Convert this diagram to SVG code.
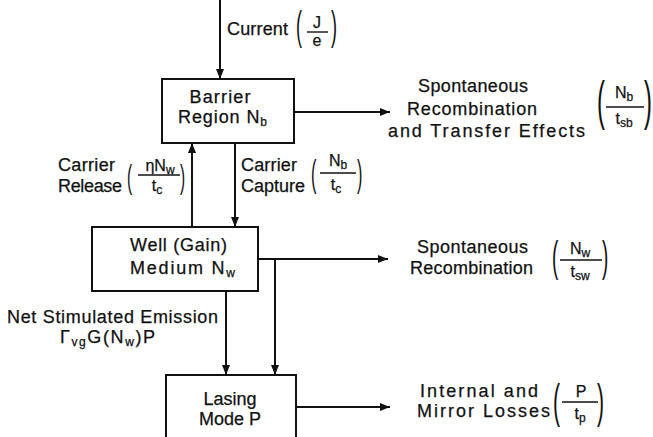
<svg xmlns="http://www.w3.org/2000/svg" width="653" height="437" viewBox="0 0 653 437">
<style>
.t{font-family:"Liberation Sans",Arial,sans-serif;font-size:18px;fill:#111;stroke:#111;stroke-width:0.25}
.f{font-family:"Liberation Sans",Arial,sans-serif;font-size:16px;fill:#111;stroke:#111;stroke-width:0.25}
.s{font-size:12px}
.p{font-family:"Liberation Sans",Arial,sans-serif;fill:#111}
.box{fill:#fff;stroke:#111;stroke-width:2}
.ln{fill:none;stroke:#111;stroke-width:2}
.fl{stroke:#111;stroke-width:1.4}
</style>
<defs>
<marker id="ah" markerUnits="userSpaceOnUse" markerWidth="10" markerHeight="8" refX="10" refY="4" orient="auto">
<path d="M0,0 L10,4 L0,8 z" fill="#111"/>
</marker>
</defs>
<rect width="653" height="437" fill="#fff"/>
<g id="connectors">
<line class="ln" x1="220" y1="0" x2="220" y2="79" marker-end="url(#ah)"/>
<line class="ln" x1="294" y1="112" x2="390" y2="112" marker-end="url(#ah)"/>
<line class="ln" x1="192" y1="227" x2="192" y2="143" marker-end="url(#ah)"/>
<line class="ln" x1="235" y1="143" x2="235" y2="227" marker-end="url(#ah)"/>
<line class="ln" x1="258" y1="259" x2="388" y2="259" marker-end="url(#ah)"/>
<line class="ln" x1="275" y1="259" x2="275" y2="375" marker-end="url(#ah)"/>
<line class="ln" x1="226" y1="291" x2="226" y2="375" marker-end="url(#ah)"/>
<line class="ln" x1="296" y1="407" x2="390" y2="407" marker-end="url(#ah)"/>
</g>
<g id="current-label">
<text class="t" x="227" y="35" textLength="61" lengthAdjust="spacing">Current</text>
<text class="p" font-size="40" transform="translate(296,39.5) scale(0.45,1)">(</text>
<text class="f" x="317" y="28" text-anchor="middle">J</text>
<line class="fl" x1="307" y1="32" x2="328" y2="32"/>
<text class="f" x="317" y="46" text-anchor="middle">e</text>
<text class="p" font-size="40" transform="translate(331,39.5) scale(0.45,1)">)</text>
</g>
<g id="barrier">
<rect class="box" x="162" y="79" width="132" height="64"/>
<text class="t" x="220" y="103" text-anchor="middle" textLength="61" lengthAdjust="spacing">Barrier</text>
<text class="t" x="178" y="123" textLength="89" lengthAdjust="spacing">Region  N<tspan class="s" dy="3">b</tspan></text>
</g>
<g id="barrier-loss">
<text class="t" x="418" y="92" textLength="110" lengthAdjust="spacing">Spontaneous</text>
<text class="t" x="407" y="115" textLength="130" lengthAdjust="spacing">Recombination</text>
<text class="t" x="388" y="137" textLength="197" lengthAdjust="spacing">and Transfer Effects</text>
<text class="p" font-size="53" transform="translate(597,118.8) scale(0.45,1)">(</text>
<text class="f" x="624" y="98" text-anchor="middle">N<tspan class="s" dy="3">b</tspan></text>
<line class="fl" x1="606" y1="107" x2="644" y2="107"/>
<text class="f" x="624" y="124" text-anchor="middle">t<tspan class="s" dy="3">sb</tspan></text>
<text class="p" font-size="53" transform="translate(644,118.8) scale(0.45,1)">)</text>
</g>
<g id="release-label">
<text class="t" x="58" y="171" textLength="57" lengthAdjust="spacing">Carrier</text>
<text class="t" x="58" y="192" textLength="64" lengthAdjust="spacing">Release</text>
<text class="p" font-size="34" transform="translate(127,187.8) scale(0.45,1)">(</text>
<text class="f" x="160" y="171" text-anchor="middle">ηN<tspan class="s" dy="3">w</tspan></text>
<line class="fl" x1="138" y1="175" x2="180" y2="175"/>
<text class="f" x="157" y="191" text-anchor="middle">t<tspan class="s" dy="3">c</tspan></text>
<text class="p" font-size="34" transform="translate(180,187.8) scale(0.45,1)">)</text>
</g>
<g id="capture-label">
<text class="t" x="241" y="171" textLength="56" lengthAdjust="spacing">Carrier</text>
<text class="t" x="241" y="192" textLength="64" lengthAdjust="spacing">Capture</text>
<text class="p" font-size="36" transform="translate(311,186.4) scale(0.45,1)">(</text>
<text class="f" x="338" y="166" text-anchor="middle">N<tspan class="s" dy="3">b</tspan></text>
<line class="fl" x1="320" y1="173" x2="356" y2="173"/>
<text class="f" x="336" y="190" text-anchor="middle">t<tspan class="s" dy="3">c</tspan></text>
<text class="p" font-size="36" transform="translate(357,186.4) scale(0.45,1)">)</text>
</g>
<g id="well">
<rect class="box" x="92" y="227" width="166" height="64"/>
<text class="t" x="130" y="251" textLength="97" lengthAdjust="spacing">Well (Gain)</text>
<text class="t" x="130" y="274" textLength="105" lengthAdjust="spacing">Medium  N<tspan class="s" dy="3">w</tspan></text>
</g>
<g id="well-loss">
<text class="t" x="417" y="253" textLength="111" lengthAdjust="spacing">Spontaneous</text>
<text class="t" x="410" y="274" textLength="123" lengthAdjust="spacing">Recombination</text>
<text class="p" font-size="42" transform="translate(552,271) scale(0.45,1)">(</text>
<text class="f" x="580" y="254" text-anchor="middle">N<tspan class="s" dy="3">w</tspan></text>
<line class="fl" x1="560" y1="260" x2="602" y2="260"/>
<text class="f" x="580" y="277" text-anchor="middle">t<tspan class="s" dy="3">sw</tspan></text>
<text class="p" font-size="42" transform="translate(602,271) scale(0.45,1)">)</text>
</g>
<g id="stim-label">
<text class="t" x="7" y="323" textLength="211" lengthAdjust="spacing">Net Stimulated Emission</text>
<text class="t" x="60" y="343" textLength="95" lengthAdjust="spacing">Γ<tspan class="s" dy="3">vg</tspan><tspan dy="-3">G(N</tspan><tspan class="s" dy="3">w</tspan><tspan dy="-3">)P</tspan></text>
</g>
<g id="lasing">
<rect class="box" x="166" y="375" width="130" height="75"/>
<text class="t" x="230" y="405" text-anchor="middle">Lasing</text>
<text class="t" x="230" y="425" text-anchor="middle">Mode P</text>
</g>
<g id="lasing-loss">
<text class="t" x="420" y="397" textLength="118" lengthAdjust="spacing">Internal and</text>
<text class="t" x="417" y="417" textLength="133" lengthAdjust="spacing">Mirror Losses</text>
<text class="p" font-size="47" transform="translate(553,417) scale(0.45,1)">(</text>
<text class="f" x="581" y="397" text-anchor="middle">P</text>
<line class="fl" x1="562" y1="402" x2="598" y2="402"/>
<text class="f" x="580" y="419" text-anchor="middle">t<tspan class="s" dy="3">p</tspan></text>
<text class="p" font-size="47" transform="translate(597,417) scale(0.45,1)">)</text>
</g>
</svg>
